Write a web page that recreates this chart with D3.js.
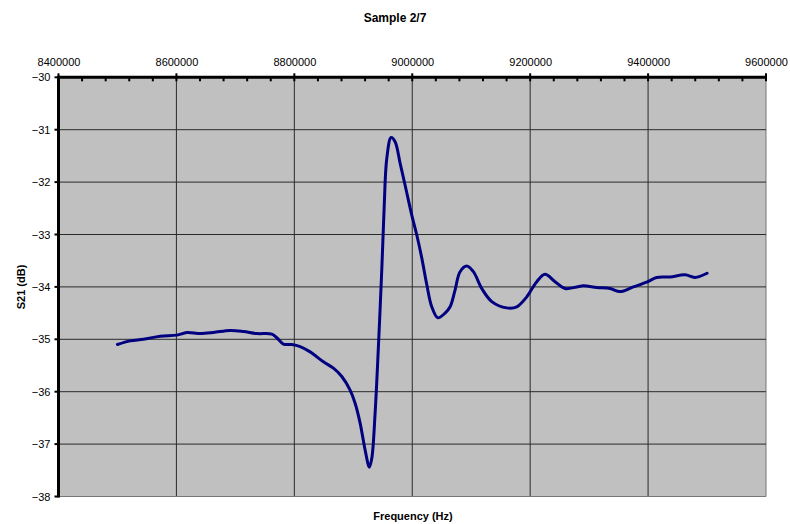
<!DOCTYPE html>
<html>
<head>
<meta charset="utf-8">
<script src="https://cdn.jsdelivr.net/npm/d3@7/dist/d3.min.js"></script>
<style>
  html, body { margin: 0; padding: 0; background: #fff; }
  svg { display: block; }
  text { font-family: "Liberation Sans", Arial, sans-serif; fill: #000; }
</style>
</head>
<body>
<svg id="chart" width="790" height="524"></svg>
<script>
const title = "Sample 2/7";
const xLabel = "Frequency (Hz)";
const yLabel = "S21 (dB)";
const xTicks = [8400000, 8600000, 8800000, 9000000, 9200000, 9400000, 9600000];
const yTicks = [-30, -31, -32, -33, -34, -35, -36, -37, -38];

const freq = [
  8500000, 8521600, 8544100, 8572400, 8600800, 8617700, 8640300, 8662800, 8691100, 8713700,
  8736400, 8761800, 8770300, 8781500, 8795800, 8809800, 8826800, 8849300, 8866300, 8880500,
  8894600, 8903100, 8911600, 8920000, 8927300, 8931400, 8937000, 8942600, 8948400, 8952300,
  8956800, 8964100, 8970900, 8979400, 8987900, 8999200, 9007700, 9016200, 9024700, 9033100,
  9043300, 9055700, 9064200, 9072600, 9081100, 9092500, 9103700, 9117900, 9134900, 9160300,
  9177300, 9194200, 9211200, 9225200, 9242200, 9259100, 9279000, 9290200, 9312900, 9335500,
  9352400, 9375000, 9397700, 9414600, 9437200, 9462600, 9479600, 9500000
];
const s21 = [
  -35.10, -35.03, -35.00, -34.94, -34.92, -34.87, -34.89, -34.87, -34.83, -34.85,
  -34.89, -34.90, -34.97, -35.09, -35.10, -35.14, -35.24, -35.43, -35.55, -35.71,
  -35.97, -36.22, -36.60, -37.11, -37.44, -37.27, -36.41, -35.14, -33.65, -32.50,
  -31.55, -31.15, -31.23, -31.64, -32.06, -32.63, -33.01, -33.45, -33.96, -34.38,
  -34.59, -34.50, -34.38, -34.06, -33.71, -33.60, -33.71, -34.03, -34.28, -34.40,
  -34.38, -34.19, -33.90, -33.76, -33.90, -34.03, -34.00, -33.98, -34.01, -34.03,
  -34.09, -34.00, -33.91, -33.82, -33.81, -33.77, -33.82, -33.74
];

const svg = d3.select("#chart");
const L = 58.5, R = 766, T = 77.3, B = 496.5;

const x = d3.scaleLinear().domain([8400000, 9600000]).range([L, R]);
const y = d3.scaleLinear().domain([-30, -38]).range([T, B]);

// plot background
svg.append("rect").attr("x", L).attr("y", T).attr("width", R - L).attr("height", B - T)
  .attr("fill", "#c0c0c0");

// gridlines
const g = svg.append("g");
g.selectAll(".vg").data(xTicks.slice(1)).enter().append("line")
  .attr("x1", d => x(d)).attr("x2", d => x(d)).attr("y1", T).attr("y2", B)
  .attr("stroke", d => d === 9600000 ? "#777" : "#2a2a2a").attr("stroke-width", 1);
g.selectAll(".hg").data(yTicks.slice(1)).enter().append("line")
  .attr("x1", L).attr("x2", R).attr("y1", d => y(d)).attr("y2", d => y(d))
  .attr("stroke", d => d === -38 ? "#777" : "#2a2a2a").attr("stroke-width", 1);

// series
const line = d3.line().x((d, i) => x(freq[i])).y(d => y(d)).curve(d3.curveCatmullRom.alpha(0.5));
svg.append("path").datum(s21).attr("d", line)
  .attr("fill", "none").attr("stroke", "#000080").attr("stroke-width", 3)
  .attr("stroke-linejoin", "round").attr("stroke-linecap", "round");

// top axis
const xAxis = d3.axisTop(x).tickValues(xTicks).tickSize(0).tickPadding(11).tickFormat(d3.format("d"));
const ax = svg.append("g").attr("transform", `translate(0,${T})`).call(xAxis);
ax.select(".domain").remove();
ax.selectAll("text").attr("font-size", 11).attr("font-family", "Liberation Sans, Arial, sans-serif");
svg.append("line").attr("x1", L).attr("x2", R).attr("y1", T).attr("y2", T)
  .attr("stroke", "#000").attr("stroke-width", 3);
// minor ticks
const minor = d3.range(8400000, 9600001, 40000);
svg.selectAll(".mt").data(minor).enter().append("line")
  .attr("x1", d => x(d)).attr("x2", d => x(d))
  .attr("y1", d => (d % 200000 === 0) ? T - 4 : T)
  .attr("y2", T + 4)
  .attr("stroke", "#000").attr("stroke-width", 2);

// left axis
const yAxis = d3.axisLeft(y).tickValues(yTicks).tickSize(0).tickPadding(8).tickFormat(d3.format("d"));
const ay = svg.append("g").attr("transform", `translate(${L},0)`).call(yAxis);
ay.select(".domain").remove();
ay.selectAll("text").attr("font-size", 11).attr("font-family", "Liberation Sans, Arial, sans-serif");
svg.append("line").attr("x1", L).attr("x2", L).attr("y1", T - 1.5).attr("y2", B + 1)
  .attr("stroke", "#000").attr("stroke-width", 3);
svg.selectAll(".yt").data(yTicks).enter().append("line")
  .attr("x1", L - 4).attr("x2", L).attr("y1", d => y(d)).attr("y2", d => y(d))
  .attr("stroke", "#000").attr("stroke-width", 2);

// titles
svg.append("text").attr("x", 395).attr("y", 22).attr("text-anchor", "middle")
  .attr("font-size", 12).attr("font-weight", "bold").text(title);
svg.append("text").attr("x", 413).attr("y", 520).attr("text-anchor", "middle")
  .attr("font-size", 11).attr("font-weight", "bold").text(xLabel);
svg.append("text").attr("transform", "translate(25,287) rotate(-90)").attr("text-anchor", "middle")
  .attr("font-size", 11).attr("font-weight", "bold").text(yLabel);
</script>
</body>
</html>
